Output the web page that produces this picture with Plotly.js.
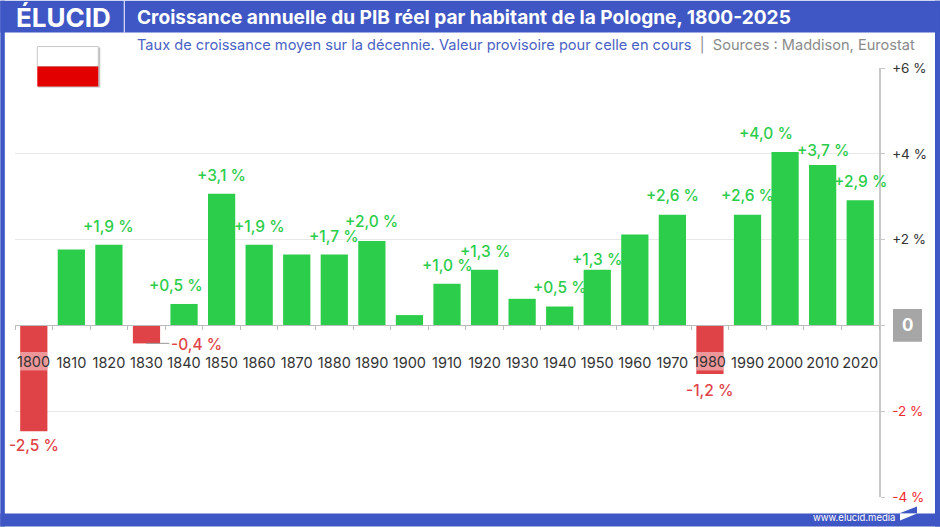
<!DOCTYPE html>
<html>
<head>
<meta charset="utf-8">
<script src="https://cdn.plot.ly/plotly-3.0.1.min.js"></script>
<style>
  html, body { margin: 0; padding: 0; background: #fff; overflow: hidden; }
  #chart { width: 940px; height: 527px; }
</style>
</head>
<body>
<div id="chart"></div>
<script>
const decades = ['1800', '1810', '1820', '1830', '1840', '1850', '1860', '1870', '1880', '1890', '1900', '1910',
  '1920', '1930', '1940', '1950', '1960', '1970', '1980', '1990', '2000', '2010', '2020'];
const growth = [-2.47, 1.77, 1.88, -0.42, 0.5, 3.07, 1.88, 1.65, 1.65, 1.97, 0.24, 0.97,
  1.3, 0.62, 0.44, 1.3, 2.12, 2.58, -1.13, 2.58, 4.04, 3.74, 2.92];
const labelDecades = ['1800', '1820', '1830', '1840', '1850', '1860', '1880', '1890', '1910', '1920', '1940',
  '1950', '1970', '1980', '1990', '2000', '2010', '2020'];
const labelTexts = ['-2,5 %', '+1,9 %', '-0,4 %', '+0,5 %', '+3,1 %', '+1,9 %', '+1,7 %', '+2,0 %', '+1,0 %', '+1,3 %', '+0,5 %',
  '+1,3 %', '+2,6 %', '-1,2 %', '+2,6 %', '+4,0 %', '+3,7 %', '+2,9 %'];
// nudges in px, the labels dodge each other in the original
const labelDx = [0, 0, 50, -8, 0, 0, 0, 0, 0, 0, 0, 0, 0, 0, 0, -19, 0, 0];
const labelDy = [-14, 18, -1, 18, 18, 18, 18, 19, 18, 18, 19, 10, 19, -17, 19, 19, 14, 19];
// these two sit on a red bar, so they are drawn above the band instead of as ticks
const overBarYears = ['1800', '1980'];
const yTickVals = [-4, -2, 0, 2, 4, 6];
const yTickText = ['-4 %', '-2 %', '', '+2 %', '+4 %', '+6 %'];

const W = 940, H = 527;
const mL = 14.7, mR = 61, mT = 67.5, mB = 29.5;
const BLUE = '#3f57c4', GREEN = '#2ccd4a', RED = '#e04347', FONT = 'Inter, sans-serif';
const YEAR_FONT = { family: FONT, size: 14.5, color: '#333' };

// pixel -> paper coordinates
const px = x => (x - mL) / (W - mL - mR);
const py = y => 1 - (y - mT) / (H - mT - mB);

const box = (x0, y0, x1, y1, fill, extra = {}) => ({
  type: 'rect', xref: 'paper', yref: 'paper',
  x0: px(x0), x1: px(x1), y0: py(y0), y1: py(y1),
  fillcolor: fill, line: { width: 0 }, ...extra
});
const poly = (pts, fill) => ({
  type: 'path', xref: 'paper', yref: 'paper',
  path: 'M ' + pts.map(([x, y]) => `${px(x)} ${py(y)}`).join(' L ') + ' Z',
  fillcolor: fill, line: { width: 0 }
});

const bars = {
  type: 'bar',
  x: decades,
  y: growth,
  width: 0.725,
  marker: { color: growth.map(v => (v < 0 ? RED : GREEN)) },
  hoverinfo: 'skip'
};

// annotation x on a category axis is the serial number, '1800' would be read as 1800
const valueLabels = labelDecades.map((d, i) => ({
  xref: 'x',
  yref: 'y',
  x: decades.indexOf(d),
  y: growth[decades.indexOf(d)],
  text: labelTexts[i],
  showarrow: false,
  xshift: labelDx[i],
  yshift: labelDy[i],
  font: { family: FONT, size: 15.5, weight: 500, color: labelTexts[i][0] === '-' ? RED : GREEN }
}));

const yearBand = d => {
  const i = decades.indexOf(d);
  return {
    type: 'rect', xref: 'x', yref: 'y',
    x0: i - 0.3625, x1: i + 0.3625,
    y0: -0.62, y1: -1.05,
    fillcolor: 'rgba(255,255,255,0.45)', line: { width: 0 }
  };
};

const yearLabels = overBarYears.map(d => ({
  xref: 'x', yref: 'paper',
  x: decades.indexOf(d),
  y: py(362),
  yanchor: 'middle',
  text: d,
  showarrow: false,
  font: YEAR_FONT
}));

const shapes = [
  // frame
  box(0, 0, W, 32, BLUE, { layer: 'below' }),
  box(0, 0, 4.5, H, BLUE, { layer: 'below' }),
  box(935, 0, W, H, BLUE, { layer: 'below' }),
  box(0, 514, W, H, BLUE, { layer: 'below' }),
  { type: 'line', xref: 'paper', yref: 'paper', x0: px(124), x1: px(124), y0: py(0), y1: py(32), line: { color: '#fff', width: 1 } },
  // flag
  box(38, 47, 100, 87, '#999', { opacity: 0.6 }),
  box(37, 46, 98, 66, '#fff', { line: { color: '#c8c8c8', width: 1 } }),
  box(37, 66, 98, 86, '#e30000'),
  // bands that keep the year readable over the red bars
  ...overBarYears.map(yearBand),
  // leader for the 1830 label
  { type: 'line', xref: 'paper', yref: 'paper', x0: px(146), x1: px(169), y0: py(343.5), y1: py(343.5), line: { color: '#999', width: 1 } },
  // box behind the zero tick
  box(893, 309, 922, 342, '#a6a6a6', { layer: 'below' }),
  // footer logo
  poly([[899, 514], [917, 507], [917, 514]], BLUE),
  poly([[900, 514], [917, 514], [900, 521]], '#fff')
];

const pageText = [
  { xref: 'paper', yref: 'paper', x: px(14), y: py(17), xanchor: 'left', yanchor: 'middle', showarrow: false,
    text: '<b>ÉLUCID</b>', font: { family: FONT, size: 26, color: '#fff' } },
  { xref: 'paper', yref: 'paper', x: px(135), y: py(44), xanchor: 'left', yanchor: 'middle', showarrow: false,
    text: 'Taux de croissance moyen sur la décennie. Valeur provisoire pour celle en cours  <span style="color:#8a8a8a">|  Sources : Maddison, Eurostat</span>',
    font: { family: FONT, size: 14.6, color: '#4a62c4' } },
  { xref: 'paper', yref: 'paper', x: px(811), y: py(518), xanchor: 'left', yanchor: 'middle', showarrow: false,
    text: 'www.elucid.media', font: { family: FONT, size: 9.5, color: '#fff' } },
  { xref: 'paper', yref: 'y', x: px(907.5), y: 0, xanchor: 'center', yanchor: 'middle', showarrow: false,
    text: '<b>0</b>', font: { family: FONT, size: 17, color: '#fff' } }
];

const layout = {
  width: W,
  height: H,
  margin: { l: mL, r: mR, t: mT, b: mB, pad: 0 },
  paper_bgcolor: '#fff',
  plot_bgcolor: 'rgba(0,0,0,0)',
  showlegend: false,
  title: {
    text: '<b>Croissance annuelle du PIB réel par habitant de la Pologne, 1800-2025</b>',
    xref: 'container', yref: 'container', x: 137 / W, y: 1 - 17 / H, xanchor: 'left', yanchor: 'middle',
    font: { family: FONT, size: 19.1, color: '#fff' }
  },
  xaxis: {
    type: 'category',
    categoryorder: 'array',
    categoryarray: decades,
    range: [-0.5, 22.5],
    anchor: 'free',
    position: 0.4,
    tickmode: 'array',
    tickvals: decades,
    ticktext: decades.map(d => (overBarYears.includes(d) ? '' : d)),
    tickson: 'boundaries',
    ticks: 'outside',
    ticklen: 4,
    tickcolor: '#bbb',
    ticklabelstandoff: 24,
    showgrid: false,
    showline: true,
    linecolor: '#bbb',
    linewidth: 1,
    zeroline: false,
    tickangle: 0,
    tickfont: YEAR_FONT
  },
  yaxis: {
    side: 'right',
    range: [-4, 6],
    tickmode: 'array',
    tickvals: yTickVals,
    ticktext: yTickText.map(t => (t[0] === '-' ? `<span style="color:#ee2a2e">${t}</span>` : t)),
    showgrid: true,
    gridcolor: '#e8e8e8',
    gridwidth: 1,
    zeroline: false,
    showline: true,
    linecolor: '#c8c8c8',
    linewidth: 1.5,
    ticks: 'outside',
    ticklen: 4,
    tickcolor: '#c8c8c8',
    ticklabelstandoff: 5,
    tickfont: { family: FONT, size: 13.5, color: '#333' }
  },
  shapes,
  annotations: [...valueLabels, ...yearLabels, ...pageText]
};

Plotly.newPlot('chart', [bars], layout, { displayModeBar: false, staticPlot: true });
</script>
</body>
</html>
